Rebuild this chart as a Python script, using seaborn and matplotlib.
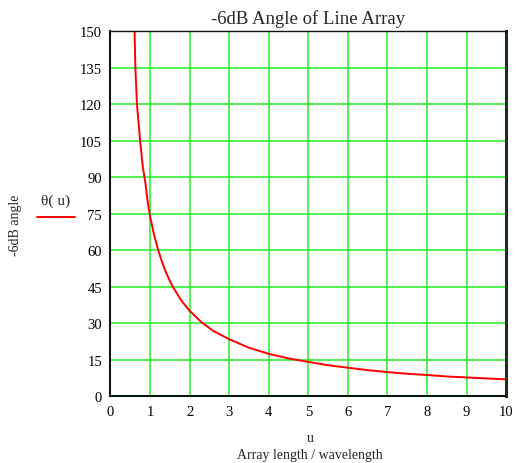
import matplotlib
matplotlib.use("Agg")
import matplotlib.pyplot as plt
import seaborn as sns
import pandas as pd
from matplotlib.lines import Line2D

# Array length / wavelength and the corresponding -6dB beam angle (degrees)
u_values = [0.61, 0.63, 0.67, 0.75, 0.82, 0.88, 0.94, 1.0, 1.1, 1.2, 1.3, 1.4, 1.5,
            1.6, 1.8, 2.0, 2.3, 2.6, 3.0, 3.5, 4.0, 4.5, 5.0, 5.5, 6.0, 6.5, 7.0,
            7.5, 8.0, 8.5, 9.0, 9.5, 10.0]
theta_values = [150, 135, 120, 105, 94, 88, 80, 74, 66.5, 60.4, 55.3, 51.0, 47.4,
                44.3, 39.1, 35.1, 30.4, 26.8, 23.4, 19.9, 17.4, 15.5, 14.1, 12.7,
                11.7, 10.7, 9.9, 9.2, 8.7, 8.1, 7.7, 7.3, 6.9]
x_ticks = list(range(0, 11))
y_ticks = list(range(0, 151, 15))

df = pd.DataFrame({"u": u_values, "theta": theta_values})

sns.set_style("white")
plt.rcParams["font.family"] = ["Liberation Serif", "DejaVu Serif"]

fig = plt.figure(figsize=(5.16, 4.64), dpi=100)
ax = fig.add_axes([0.214, 0.144, 0.767, 0.787])

sns.lineplot(data=df, x="u", y="theta", ax=ax, color="#ff0000", linewidth=1.4,
             sort=False, estimator=None)

ax.set_xlim(0, 10)
ax.set_ylim(0, 150)
ax.set_xticks(x_ticks)
ax.set_yticks(y_ticks)
ax.tick_params(length=0, labelsize=10.5, colors="black", pad=6)
ax.grid(True, color="#22ee22", linewidth=1.1)
ax.set_axisbelow(True)
ax.spines["left"].set_color("#0a1a0a")
ax.spines["left"].set_linewidth(1.5)
ax.spines["bottom"].set_color("#0a1a0a")
ax.spines["bottom"].set_linewidth(1.5)
ax.spines["top"].set_color("#111111")
ax.spines["top"].set_linewidth(1.0)
ax.spines["right"].set_color("#16321a")
ax.spines["right"].set_linewidth(2.2)

ax.set_xlabel("")
ax.set_ylabel("")
ax.set_title("-6dB Angle of Line Array", fontsize=13.5, pad=6)

fig.text(0.601, 0.056, "u", ha="center", va="center", fontsize=10)
fig.text(0.601, 0.019, "Array length / wavelength", ha="center", va="center", fontsize=10)
fig.text(0.030, 0.515, "-6dB angle", rotation=90, ha="center", va="center", fontsize=10)

# legend entry to the left of the plot
fig.text(0.107, 0.566, "θ( u)", ha="center", va="center", fontsize=11,
         family=["Liberation Serif", "DejaVu Serif"])
fig.add_artist(Line2D([0.072, 0.145], [0.531, 0.531], color="#ff0000",
                      linewidth=1.4, transform=fig.transFigure))

fig.savefig("out.png", dpi=100)
